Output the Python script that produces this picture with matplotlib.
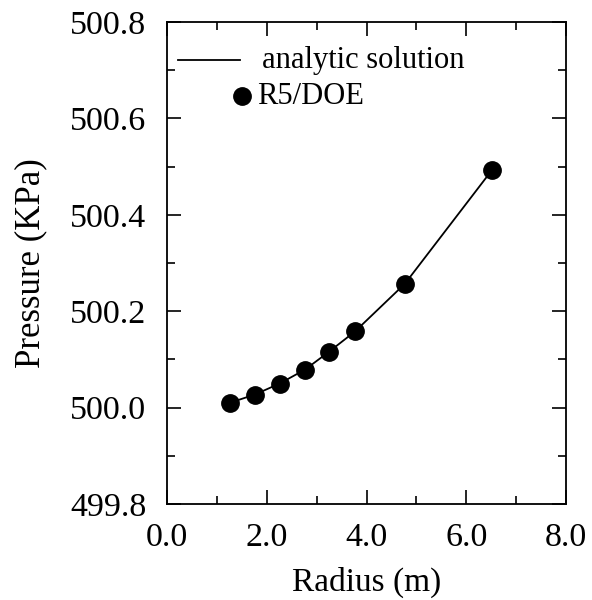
import matplotlib
matplotlib.use("Agg")
import matplotlib.pyplot as plt
from matplotlib.ticker import MultipleLocator, FormatStrFormatter

radius = [1.26, 1.76, 2.26, 2.77, 3.25, 3.77, 4.77, 6.51]
pressure = [500.010, 500.027, 500.050, 500.079, 500.116, 500.158, 500.257, 500.492]

plt.rcParams['font.family'] = ['Liberation Serif', 'DejaVu Serif']

fig = plt.figure(figsize=(5.92, 6.0), dpi=100)
ax = fig.add_axes([167/592, 1-504/600, (566-167)/592, (504-22)/600])

ax.plot(radius, pressure, '-', color='black', lw=1.3)
ax.plot(radius, pressure, 'o', color='black', ms=12.5, lw=0)

ax.set_xlim(0, 8)
ax.set_ylim(499.8, 500.8)
ax.xaxis.set_major_locator(MultipleLocator(2))
ax.xaxis.set_minor_locator(MultipleLocator(1))
ax.yaxis.set_major_locator(MultipleLocator(0.2))
ax.yaxis.set_minor_locator(MultipleLocator(0.1))
ax.xaxis.set_major_formatter(FormatStrFormatter('%.1f'))
ax.yaxis.set_major_formatter(FormatStrFormatter('%.1f'))
ax.tick_params(which='both', direction='in', top=True, right=True, labelsize=24.5, width=1.2)
ax.tick_params(which='major', length=10)
ax.tick_params(which='minor', length=6)
ax.tick_params(axis='x', which='major', pad=13)
ax.tick_params(axis='y', which='major', pad=15)
for s in ax.spines.values():
    s.set_linewidth(1.3)

ax.set_xlabel('Radius (m)', fontsize=24, labelpad=10)
ax.set_ylabel('Pressure (KPa)', fontsize=25, labelpad=16)

# legend drawn in axes coordinates
ax.plot([0.028, 0.183], [0.921, 0.921], '-', color='black', lw=1.3, transform=ax.transAxes)
ax.text(0.238, 0.921, 'analytic solution', fontsize=22, va='center', ha='left', transform=ax.transAxes)
ax.plot([0.188], [0.846], 'o', color='black', ms=12.5, transform=ax.transAxes)
ax.text(0.225, 0.846, 'R5/DOE', fontsize=22, va='center', ha='left', transform=ax.transAxes)

fig.savefig('out.png', dpi=100)
